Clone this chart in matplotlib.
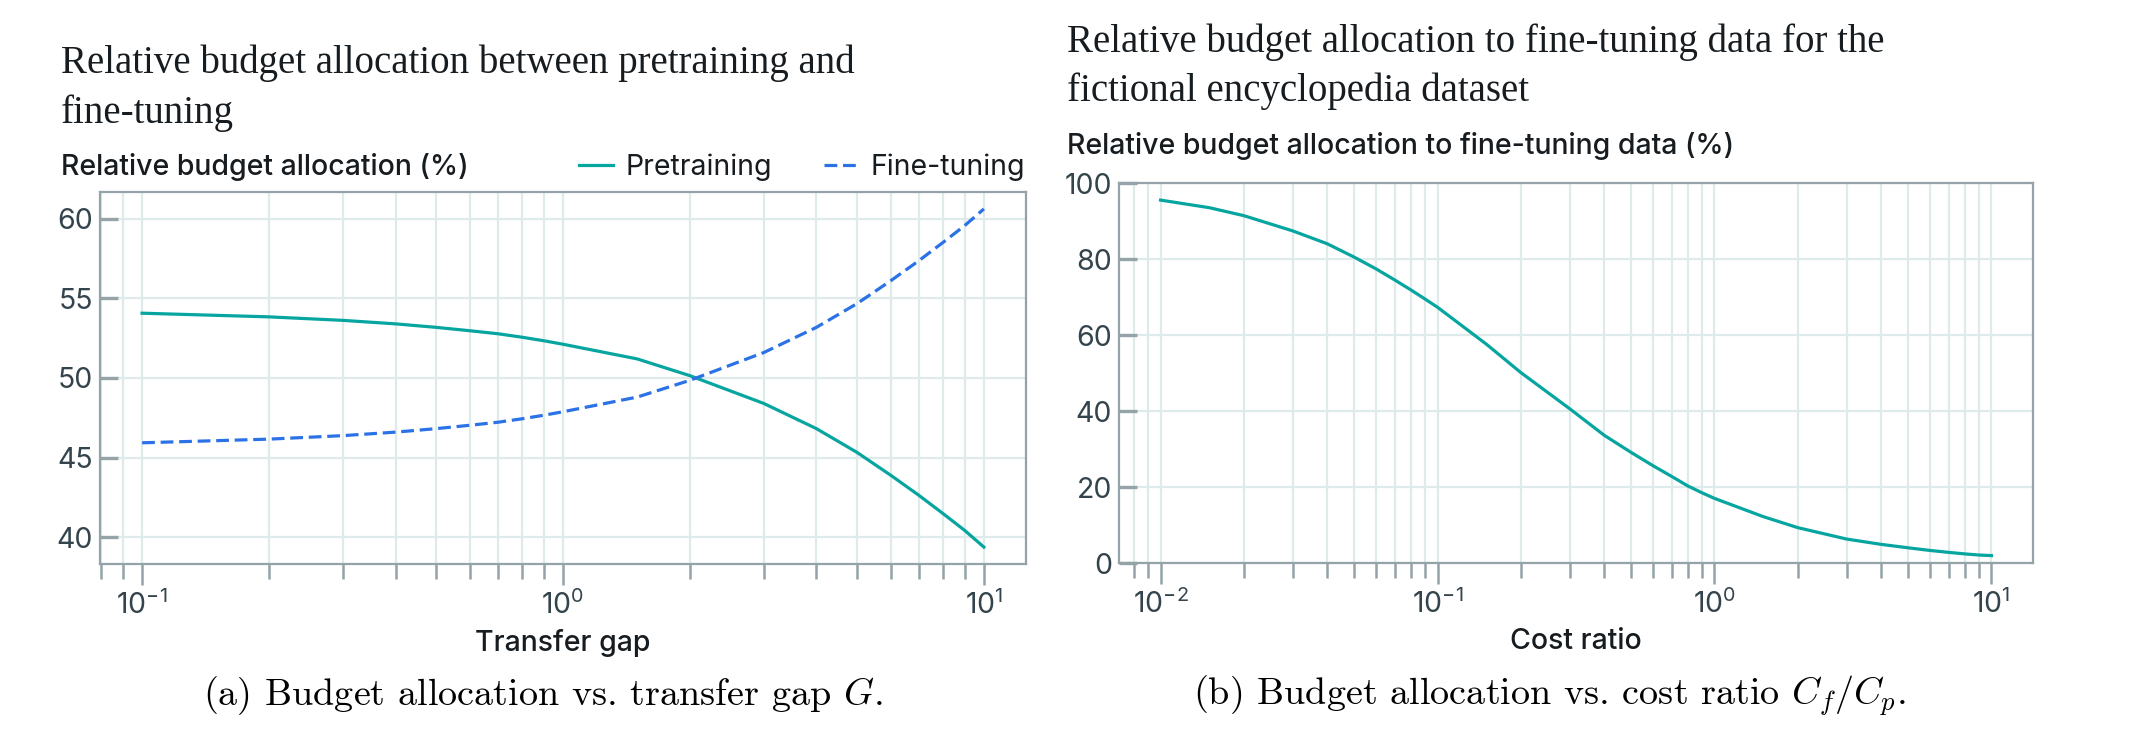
"""Budget allocation figures: transfer gap (a) and cost ratio (b)."""
import matplotlib
matplotlib.use("Agg")
import matplotlib.pyplot as plt
from matplotlib.ticker import LogLocator

# --- data ---
gap = [0.1, 0.2, 0.3, 0.4, 0.5, 0.6, 0.7, 0.8, 0.9, 1.0, 1.5, 2.0, 3.0, 4.0, 5.0, 6.0, 7.0, 8.0, 9.0, 10.0]
pretraining = [54.07, 53.84, 53.62, 53.40, 53.18, 52.97, 52.78, 52.56, 52.34, 52.12,
               51.20, 50.15, 48.40, 46.82, 45.32, 43.90, 42.64, 41.48, 40.43, 39.38]
finetuning = [45.93, 46.16, 46.38, 46.60, 46.82, 47.03, 47.22, 47.44, 47.66, 47.88,
              48.80, 49.85, 51.60, 53.18, 54.68, 56.10, 57.36, 58.52, 59.57, 60.62]

cost_ratio = [0.01, 0.015, 0.02, 0.03, 0.04, 0.05, 0.06, 0.07, 0.08, 0.09, 0.1, 0.15, 0.2, 0.3,
              0.4, 0.5, 0.6, 0.7, 0.8, 0.9, 1.0, 1.5, 2.0, 3.0, 4.0, 5.0, 6.0, 7.0, 8.0, 9.0, 10.0]
ft_share = [95.5, 93.5, 91.4, 87.4, 84.0, 80.5, 77.4, 74.5, 71.9, 69.5, 67.3, 57.6, 50.1, 40.6,
            33.6, 29.1, 25.6, 22.8, 20.3, 18.5, 17.0, 12.2, 9.3, 6.3, 4.9, 4.0, 3.3, 2.8, 2.4, 2.1, 1.95]

TEAL = "#07a5a0"
BLUE = "#2b72e6"
GRID = "#dfeaea"
FRAME = "#93a3a8"
TICKTXT = "#34444c"
INK = "#161c20"
SANS = ["Inter", "DejaVu Sans"]
SERIF = ["Liberation Serif", "DejaVu Serif"]
FS = 20.5      # sans text
FS_TITLE = 28
FS_CAP = 27.5

plt.rcParams["font.family"] = SANS
plt.rcParams["axes.unicode_minus"] = False
plt.rcParams["mathtext.fontset"] = "custom"
plt.rcParams["mathtext.rm"] = "Inter"
plt.rcParams["mathtext.it"] = "Inter:italic"

W, H = 2131, 747
fig = plt.figure(figsize=(W / 100, H / 100), dpi=100)


def fx(px):
    return px / W


def fy(py):
    return 1 - py / H


def style(ax):
    ax.set_xscale("log")
    ax.xaxis.set_major_locator(LogLocator(base=10, numticks=10))
    ax.xaxis.set_minor_locator(LogLocator(base=10, subs=range(2, 10), numticks=50))
    ax.grid(True, which="both", axis="x", color=GRID, lw=1.6, zorder=0)
    ax.grid(True, which="major", axis="y", color=GRID, lw=1.6, zorder=0)
    ax.set_axisbelow(True)
    for s in ax.spines.values():
        s.set_color(FRAME)
        s.set_linewidth(1.6)
    ax.tick_params(axis="y", which="major", direction="in", length=13, width=2.4,
                   color=FRAME, labelsize=FS, labelcolor=TICKTXT, pad=5)
    ax.tick_params(axis="x", which="major", direction="out", length=15, width=1.8,
                   color=FRAME, labelsize=FS, labelcolor=TICKTXT, pad=4)
    ax.tick_params(axis="x", which="minor", direction="out", length=11, width=1.8,
                   color=FRAME, labelbottom=False)


# --- (a) transfer gap ---
ax1 = fig.add_axes([fx(100), fy(564), fx(1026) - fx(100), fy(192) - fy(564)])
style(ax1)
ax1.plot(gap, pretraining, color=TEAL, lw=2.3, label="Pretraining", zorder=3)
ax1.plot(gap, finetuning, color=BLUE, lw=2.3, ls=(0, (4.0, 1.8)), label="Fine-tuning", zorder=3)
ax1.set_yticks([40, 45, 50, 55, 60])
ax1.set_xlabel("Transfer gap", fontsize=FS, fontweight="medium", color=INK, labelpad=6)
ax1.legend(loc="center left", bbox_to_anchor=(fx(579), fy(167)), bbox_transform=fig.transFigure,
           ncol=2, frameon=False, fontsize=FS, handlelength=1.2, handletextpad=0.45,
           columnspacing=1.8, labelcolor=INK, borderaxespad=0, borderpad=0)

fig.text(fx(61), fy(73), "Relative budget allocation between pretraining and",
         family=SERIF, fontsize=FS_TITLE, color=INK, va="baseline")
fig.text(fx(61), fy(123), "fine-tuning", family=SERIF, fontsize=FS_TITLE, color=INK, va="baseline")
fig.text(fx(61), fy(175), "Relative budget allocation (%)", fontsize=FS,
         fontweight="medium", color=INK, va="baseline")
fig.text(fx(543), fy(696), "(a) Budget allocation vs. transfer gap $G$.", family="cmr10",
         math_fontfamily="cm", fontsize=FS_CAP, color="black", ha="center", va="center")

# --- (b) cost ratio ---
ax2 = fig.add_axes([fx(1119), fy(563), fx(2033) - fx(1119), fy(183) - fy(563)])
style(ax2)
ax2.plot(cost_ratio, ft_share, color=TEAL, lw=2.3, zorder=3)
ax2.set_ylim(0, 100)
ax2.set_yticks([0, 20, 40, 60, 80, 100])
ax2.set_xlabel("Cost ratio", fontsize=FS, fontweight="medium", color=INK, labelpad=6)

fig.text(fx(1067), fy(52), "Relative budget allocation to fine-tuning data for the",
         family=SERIF, fontsize=FS_TITLE, color=INK, va="baseline")
fig.text(fx(1067), fy(101), "fictional encyclopedia dataset", family=SERIF, fontsize=FS_TITLE,
         color=INK, va="baseline")
fig.text(fx(1067), fy(154), "Relative budget allocation to fine-tuning data (%)", fontsize=FS,
         fontweight="medium", color=INK, va="baseline")
fig.text(fx(1550), fy(696), "(b) Budget allocation vs. cost ratio $C_f/C_p$.", family="cmr10",
         math_fontfamily="cm", fontsize=FS_CAP, color="black", ha="center", va="center")

fig.savefig("out.png", dpi=100)
